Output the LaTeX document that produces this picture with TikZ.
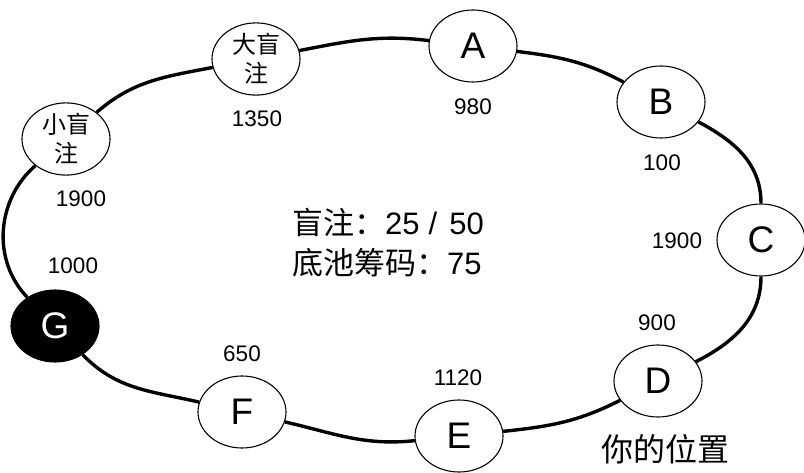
\documentclass[tikz,border=0pt]{standalone}
\usepackage{fontspec}
\setmainfont{Liberation Sans}
\newfontfamily\cjk{Noto Sans CJK SC}
\usetikzlibrary{shapes.geometric}
\begin{document}
\begin{tikzpicture}[x=1pt,y=1pt,
  seat/.style={ellipse,draw,line width=1.1pt,fill=white,minimum width=88pt,minimum height=72pt,inner sep=0pt,font=\fontsize{37}{37}\selectfont},
  blindseat/.style={seat,align=center,font=\cjk\fontsize{24}{29}\selectfont},
  hero/.style={seat,fill=black,text=white},
  ring/.style={line width=3.4pt},
  chips/.style={font=\fontsize{22.5}{22.5}\selectfont},
  info/.style={font=\fontsize{31}{31}\selectfont,anchor=west,inner sep=0pt}]
\useasboundingbox (0,0) rectangle (804,472);
\fill[white] (0,0) rectangle (804,472);
% seats
\node[blindseat] (SB) at (66,333) {小盲\\注};
\node[blindseat] (BB) at (256,413) {大盲\\注};
\node[seat] (A) at (473,426) {A};
\node[seat] (B) at (661,370) {B};
\node[seat] (C) at (761,232) {C};
\node[seat] (D) at (658,91) {D};
\node[seat] (E) at (459,36) {E};
\node[seat] (F) at (242,60) {F};
\node[hero] (G) at (55,146) {G};
% ring
\draw[ring] (C) to[out=90,in=332] (B);
\draw[ring] (B) to[out=152,in=353] (A);
\draw[ring] (A) to[out=173,in=11] (BB);
\draw[ring] (BB) to[out=191,in=41] (SB);
\draw[ring] (SB) to[out=221,in=134] (G);
\draw[ring] (G) to[out=314,in=167] (F);
\draw[ring] (F) to[out=347,in=186] (E);
\draw[ring] (E) to[out=6,in=207] (D);
\draw[ring] (D) to[out=27,in=270] (C);
% chip counts
\node[chips] (nBB) at (257,353) {1350};
\node[chips] (nSB) at (81,273) {1900};
\node[chips] (nA) at (473,365) {980};
\node[chips] (nB) at (662,309) {100};
\node[chips] (nC) at (677,231) {1900};
\node[chips] (nD) at (657,149) {900};
\node[chips] (nE) at (458,94) {1120};
\node[chips] (nF) at (242,118) {650};
\node[chips] (nG) at (73,206) {1000};
% labels
\node[font=\cjk\fontsize{32}{32}\selectfont] (you) at (665,23) {你的位置};
\node[info] (blinds) at (292,250) {{\cjk 盲注：}25\kern9pt/\kern12pt 50};
\node[info] (pot) at (292,209) {{\cjk 底池筹码：}75};
\end{tikzpicture}
\end{document}
